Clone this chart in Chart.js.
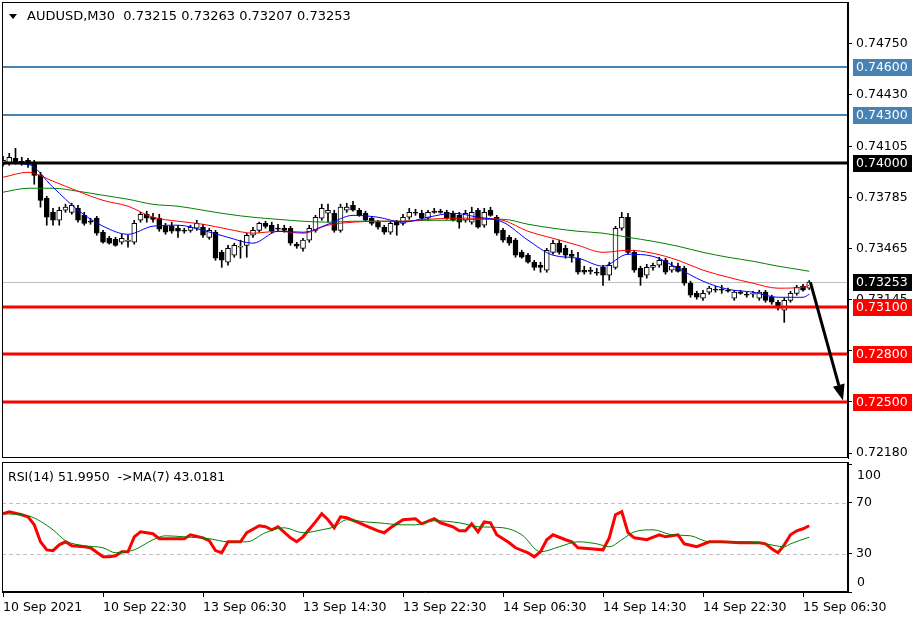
<!DOCTYPE html>
<html>
<head>
<meta charset="utf-8">
<script src="https://cdn.jsdelivr.net/npm/chart.js@4.4.0/dist/chart.umd.min.js"></script>
<style>
  body { margin: 0; background: #fff; width: 922px; height: 620px; overflow: hidden; position: relative; }
  canvas { position: absolute; left: 0; }
  #main { top: 0; }
  #rsi { top: 460px; }
</style>
</head>
<body>
<canvas id="main" width="922" height="460"></canvas>
<canvas id="rsi" width="922" height="160"></canvas>
<script>
// AUDUSD M30 candles, 10 Sep 14:30 .. 15 Sep 07:00
const opens = [0.73992,0.73998,0.74030,0.74011,0.74017,0.73998,0.73923,0.73779,0.73691,0.73641,
  0.73704,0.73691,0.73716,0.73672,0.73635,0.73654,0.73566,0.73528,0.73522,0.73503,
  0.73509,0.73503,0.73641,0.73679,0.73660,0.73654,0.73603,0.73603,0.73591,0.73578,
  0.73578,0.73591,0.73597,0.73534,0.73566,0.73440,0.73378,0.73422,0.73472,0.73484,
  0.73547,0.73578,0.73622,0.73610,0.73591,0.73591,0.73591,0.73491,0.73465,0.73516,
  0.73578,0.73654,0.73685,0.73685,0.73578,0.73704,0.73735,0.73704,0.73685,0.73654,
  0.73629,0.73597,0.73566,0.73629,0.73622,0.73660,0.73691,0.73685,0.73654,0.73698,
  0.73698,0.73691,0.73685,0.73672,0.73641,0.73629,0.73704,0.73610,0.73704,0.73660,
  0.73578,0.73534,0.73516,0.73440,0.73422,0.73378,0.73359,0.73328,0.73440,0.73497,
  0.73465,0.73428,0.73403,0.73328,0.73328,0.73315,0.73346,0.73296,0.73346,0.73591,
  0.73660,0.73440,0.73340,0.73296,0.73346,0.73359,0.73390,0.73328,0.73353,0.73340,
  0.73246,0.73183,0.73152,0.73190,0.73208,0.73208,0.73202,0.73152,0.73190,0.73177,
  0.73177,0.73152,0.73190,0.73158,0.73127,0.73077,0.73139,0.73183,0.73227,0.73215];
const highs = [0.74042,0.74061,0.74092,0.74036,0.74030,0.74017,0.73942,0.73792,0.73716,0.73723,
  0.73742,0.73748,0.73735,0.73691,0.73654,0.73666,0.73578,0.73541,0.73534,0.73553,
  0.73547,0.73641,0.73691,0.73698,0.73685,0.73679,0.73622,0.73629,0.73610,0.73591,
  0.73610,0.73641,0.73616,0.73591,0.73578,0.73453,0.73484,0.73497,0.73516,0.73560,
  0.73597,0.73629,0.73635,0.73629,0.73616,0.73610,0.73603,0.73503,0.73528,0.73610,
  0.73672,0.73742,0.73742,0.73704,0.73742,0.73748,0.73760,0.73716,0.73698,0.73666,
  0.73641,0.73610,0.73635,0.73641,0.73679,0.73716,0.73710,0.73704,0.73704,0.73716,
  0.73710,0.73704,0.73698,0.73691,0.73704,0.73723,0.73716,0.73716,0.73723,0.73672,
  0.73591,0.73547,0.73528,0.73453,0.73434,0.73390,0.73378,0.73465,0.73516,0.73516,
  0.73484,0.73453,0.73440,0.73353,0.73346,0.73340,0.73359,0.73378,0.73603,0.73691,
  0.73685,0.73453,0.73353,0.73365,0.73372,0.73409,0.73403,0.73378,0.73372,0.73353,
  0.73259,0.73196,0.73202,0.73227,0.73227,0.73233,0.73215,0.73202,0.73202,0.73190,
  0.73196,0.73202,0.73202,0.73171,0.73139,0.73152,0.73196,0.73233,0.73240,0.73263];
const lows = [0.73980,0.73986,0.73992,0.73986,0.73973,0.73867,0.73723,0.73610,0.73610,0.73610,
  0.73691,0.73679,0.73629,0.73610,0.73616,0.73547,0.73497,0.73491,0.73478,0.73491,
  0.73472,0.73491,0.73629,0.73629,0.73629,0.73572,0.73553,0.73560,0.73534,0.73560,
  0.73566,0.73578,0.73534,0.73522,0.73390,0.73346,0.73359,0.73409,0.73403,0.73409,
  0.73534,0.73566,0.73591,0.73560,0.73572,0.73566,0.73484,0.73465,0.73447,0.73503,
  0.73566,0.73641,0.73629,0.73566,0.73566,0.73691,0.73698,0.73666,0.73635,0.73610,
  0.73585,0.73553,0.73553,0.73547,0.73610,0.73647,0.73672,0.73641,0.73641,0.73685,
  0.73685,0.73647,0.73635,0.73591,0.73629,0.73616,0.73591,0.73597,0.73666,0.73547,
  0.73503,0.73484,0.73409,0.73403,0.73372,0.73328,0.73315,0.73315,0.73428,0.73428,
  0.73403,0.73378,0.73303,0.73303,0.73303,0.73296,0.73233,0.73265,0.73334,0.73578,
  0.73428,0.73315,0.73233,0.73278,0.73328,0.73346,0.73303,0.73315,0.73315,0.73233,
  0.73158,0.73146,0.73139,0.73177,0.73190,0.73183,0.73190,0.73139,0.73177,0.73158,
  0.73158,0.73139,0.73127,0.73114,0.73077,0.73001,0.73127,0.73171,0.73196,0.73207];
const closes = [0.74017,0.74036,0.74005,0.74005,0.73992,0.73923,0.73766,0.73660,0.73641,0.73704,
  0.73723,0.73735,0.73641,0.73622,0.73629,0.73560,0.73503,0.73497,0.73484,0.73528,
  0.73516,0.73622,0.73679,0.73654,0.73647,0.73585,0.73566,0.73572,0.73572,0.73572,
  0.73597,0.73622,0.73547,0.73578,0.73403,0.73390,0.73465,0.73484,0.73478,0.73547,
  0.73578,0.73622,0.73603,0.73572,0.73585,0.73578,0.73497,0.73478,0.73516,0.73591,
  0.73660,0.73716,0.73704,0.73578,0.73723,0.73723,0.73704,0.73672,0.73641,0.73622,
  0.73597,0.73566,0.73622,0.73610,0.73660,0.73691,0.73685,0.73654,0.73691,0.73691,
  0.73691,0.73654,0.73641,0.73629,0.73685,0.73691,0.73597,0.73691,0.73672,0.73560,
  0.73516,0.73497,0.73422,0.73409,0.73378,0.73346,0.73346,0.73453,0.73497,0.73440,
  0.73422,0.73415,0.73315,0.73315,0.73321,0.73309,0.73296,0.73359,0.73591,0.73660,
  0.73440,0.73328,0.73284,0.73346,0.73359,0.73390,0.73315,0.73353,0.73321,0.73246,
  0.73171,0.73158,0.73183,0.73215,0.73202,0.73202,0.73196,0.73190,0.73183,0.73171,
  0.73183,0.73190,0.73139,0.73127,0.73089,0.73139,0.73183,0.73221,0.73202,0.73253];

// moving averages, read every 4 bars (+ last bar)
const maIdx  = [0,4,8,12,16,20,24,28,32,36,40,44,48,52,56,60,64,68,72,76,80,84,88,92,96,100,104,108,112,116,120,124,128,129];
const maFast = [0.73998,0.73992,0.73848,0.73704,0.73604,0.73553,0.73604,0.73610,0.73578,0.73534,0.73497,0.73572,
  0.73566,0.73616,0.73672,0.73660,0.73629,0.73660,0.73685,0.73660,0.73629,0.73516,0.73422,0.73403,0.73353,0.73428,
  0.73415,0.73340,0.73259,0.73208,0.73190,0.73158,0.73158,0.73177];
const maMid  = [0.73911,0.73942,0.73886,0.73823,0.73766,0.73729,0.73660,0.73635,0.73616,0.73585,0.73560,0.73572,
  0.73560,0.73610,0.73629,0.73635,0.73635,0.73647,0.73654,0.73654,0.73641,0.73572,0.73528,0.73484,0.73440,0.73453,
  0.73434,0.73390,0.73328,0.73284,0.73246,0.73215,0.73221,0.73233];
const maSlow = [0.73817,0.73842,0.73842,0.73823,0.73798,0.73773,0.73741,0.73729,0.73704,0.73679,0.73660,0.73647,
  0.73635,0.73629,0.73635,0.73635,0.73635,0.73641,0.73641,0.73647,0.73647,0.73616,0.73591,0.73572,0.73560,0.73534,
  0.73509,0.73478,0.73440,0.73409,0.73384,0.73353,0.73328,0.73321];

// RSI(14) and its MA(7)
const rsiIdx = [0,1,3,4,5,6,7,8,9,10,11,13,14,16,17,18,19,20,21,22,24,25,27,29,30,32,33,34,35,36,38,39,41,42,43,44,
  46,47,48,50,51,52,53,54,55,57,58,60,61,62,64,66,67,69,70,72,73,74,75,76,77,78,79,81,82,84,85,86,87,88,90,91,92,
  94,96,97,98,99,100,101,103,105,106,108,109,111,113,115,118,121,122,123,124,125,126,127,128,129];
const rsiValues = [61.4,63,60.6,59,52.7,39.4,33,32.4,37,39.4,36.3,35.5,34.7,27.6,27.6,28.4,31.6,31.6,43.3,47.2,45.7,41.8,
  41.8,41.8,44.9,42.5,40.2,32.5,30.8,39.4,39.4,46.5,52,51.2,48.8,51.2,42.5,39.4,43.3,55,61.4,56.7,50.4,59,58.2,54.3,
  52,48,46.5,50.4,56.7,57.5,53.5,57.5,54.3,51.2,48,48,53.5,47.2,55,54.3,44.9,38.6,34.7,30.8,27.6,31.6,41,44.9,41,39.4,
  34.7,33.9,33.1,42.5,60.6,63,46.5,42.5,41,44.9,43.3,44.9,37.8,35.5,39.4,39.4,38.6,38.6,37.8,33.9,30.8,37,44.9,48,49.6,52.0];
const rsiMaIdx = [0,4,8,10,13,16,18,21,24,26,29,33,36,39,42,45,48,51,53,55,58,60,64,66,69,73,76,80,83,86,89,92,95,97,
  99,101,104,107,110,113,116,119,122,125,126,129];
const rsiMaValues = [61.4,59.8,48.8,40.2,36.3,34.7,30.8,33.1,41,44.1,43.3,41.8,39.4,39.4,46.5,50.4,46.5,48.8,51.2,56.7,
  55,54.3,52.7,52.7,55.9,54.3,51.2,50.4,44.9,31.6,35.5,39.4,37.8,35.5,41,47.2,48.8,44.9,44.1,39.4,39.4,39.4,37.8,35.5,37.8,43.0];

const priceTicks = [0.74750, 0.74430, 0.74105, 0.73785, 0.73465, 0.73145, 0.72825, 0.72505, 0.72180];
const hiddenTicks = [0.72825, 0.72505]; // covered by the level boxes in the terminal
const levels = [0.74600, 0.74300, 0.74000, 0.73100, 0.72800, 0.72500];
const bidPrice = 0.73253;
const timeTickIdx = [0, 16, 32, 48, 64, 80, 96, 112, 128];
const timeLabels = ['10 Sep 2021', '10 Sep 22:30', '13 Sep 06:30', '13 Sep 14:30', '13 Sep 22:30',
  '14 Sep 06:30', '14 Sep 14:30', '14 Sep 22:30', '15 Sep 06:30'];

// styling for the level lines
const levelColors = ['#4682b4', '#4682b4', '#000000', '#ff0000', '#ff0000', '#ff0000'];
const levelWidths = [2, 2, 3, 3, 3, 3];
// forecast arrow, in bar index / price
const arrowFrom = { x: 129.2, y: 0.73250 };
const arrowTo = { x: 134.4, y: 0.72510 };

const AXIS_FONT = { family: 'DejaVu Sans', size: 12.5 };
const FONT = '12.5px "DejaVu Sans"';
const xMin = -0.16, xMax = 135.2;

const bars = opens.map((o, i) => i);
const wickData = bars.map(i => ({ x: i, y: [lows[i], highs[i]] }));
const bodyData = bars.map(i => ({ x: i, y: [opens[i], closes[i]] }));
const bodyFill = bars.map(i => closes[i] >= opens[i] ? '#ffffff' : '#000000');
const pts = (idx, vals) => idx.map((x, k) => ({ x: x, y: vals[k] }));

// keep the plot area exactly where the layout padding puts it
function noAxisPad(s) {
  s.paddingTop = 0; s.paddingBottom = 0; s.paddingLeft = 0; s.paddingRight = 0;
}

function priceBox(ctx, y, text, bg) {
  ctx.fillStyle = bg;
  ctx.fillRect(853, Math.round(y) - 8, 59, 17);
  ctx.fillStyle = '#fff';
  ctx.textAlign = 'left';
  ctx.textBaseline = 'middle';
  ctx.fillText(text, 856, Math.round(y) + 0.5);
}

const mainPlugin = {
  id: 'mainDeco',
  beforeDatasetsDraw(chart) {
    const { ctx, chartArea: a, scales: { y } } = chart;
    const yb = Math.round(y.getPixelForValue(bidPrice)) + 0.5;
    ctx.save();
    ctx.strokeStyle = '#c0c0c0';
    ctx.lineWidth = 1;
    ctx.beginPath(); ctx.moveTo(a.left, yb); ctx.lineTo(a.right, yb); ctx.stroke();
    ctx.restore();
  },
  afterDatasetsDraw(chart) {
    const { ctx, chartArea: a, scales: { x, y } } = chart;
    ctx.save();
    levels.forEach((v, k) => {
      const py = Math.round(y.getPixelForValue(v));
      ctx.strokeStyle = levelColors[k];
      ctx.lineWidth = levelWidths[k];
      ctx.beginPath(); ctx.moveTo(a.left, py); ctx.lineTo(a.right, py); ctx.stroke();
    });
    // arrow
    const x1 = x.getPixelForValue(arrowFrom.x), y1 = y.getPixelForValue(arrowFrom.y);
    const x2 = x.getPixelForValue(arrowTo.x), y2 = y.getPixelForValue(arrowTo.y);
    const ang = Math.atan2(y2 - y1, x2 - x1);
    const hl = 16, hw = 6;
    const bx = x2 - hl * Math.cos(ang), by = y2 - hl * Math.sin(ang);
    ctx.strokeStyle = '#000';
    ctx.lineWidth = 3;
    ctx.beginPath(); ctx.moveTo(x1, y1); ctx.lineTo(bx, by); ctx.stroke();
    ctx.fillStyle = '#000';
    ctx.beginPath();
    ctx.moveTo(x2, y2);
    ctx.lineTo(bx + hw * Math.sin(ang), by - hw * Math.cos(ang));
    ctx.lineTo(bx - hw * Math.sin(ang), by + hw * Math.cos(ang));
    ctx.closePath(); ctx.fill();
    ctx.restore();
  },
  afterDraw(chart) {
    const { ctx, chartArea: a, scales: { y } } = chart;
    ctx.save();
    ctx.strokeStyle = '#000';
    ctx.lineWidth = 1;
    ctx.strokeRect(a.left + 0.5, a.top + 0.5, a.right - a.left - 1, a.bottom - a.top - 1);
    ctx.font = FONT;
    levels.forEach((v, k) => priceBox(ctx, y.getPixelForValue(v), v.toFixed(5), levelColors[k]));
    priceBox(ctx, y.getPixelForValue(bidPrice), bidPrice.toFixed(5), '#000');
    // header
    ctx.fillStyle = '#000';
    ctx.beginPath(); ctx.moveTo(9, 14); ctx.lineTo(17, 14); ctx.lineTo(13, 19); ctx.closePath(); ctx.fill();
    ctx.font = '13px "DejaVu Sans"';
    ctx.textAlign = 'left';
    ctx.textBaseline = 'middle';
    ctx.fillText('AUDUSD,M30  0.73215 0.73263 0.73207 0.73253', 27, 17);
    ctx.restore();
  }
};

const mainChart = new Chart(document.getElementById('main'), {
  type: 'bar',
  data: {
    datasets: [
      { type: 'line', data: pts(maIdx, maFast), borderColor: '#0000ff', borderWidth: 1, pointRadius: 0, cubicInterpolationMode: 'monotone', order: 1 },
      { type: 'line', data: pts(maIdx, maMid), borderColor: '#ff0000', borderWidth: 1, pointRadius: 0, cubicInterpolationMode: 'monotone', order: 1 },
      { type: 'line', data: pts(maIdx, maSlow), borderColor: '#008000', borderWidth: 1, pointRadius: 0, cubicInterpolationMode: 'monotone', order: 1 },
      { data: bodyData, backgroundColor: bodyFill, borderColor: '#000', borderWidth: 1, borderSkipped: false,
        barThickness: 5, minBarLength: 1, grouped: false, order: 2 },
      { data: wickData, backgroundColor: '#000', barThickness: 1, grouped: false, order: 3 }
    ]
  },
  options: {
    responsive: false,
    animation: false,
    events: [],
    layout: { padding: { left: 2, top: 2, bottom: 2, right: 0 } },
    plugins: { legend: { display: false }, tooltip: { enabled: false } },
    scales: {
      x: { type: 'linear', min: xMin, max: xMax, offset: false, display: false },
      y: {
        position: 'right', min: 0.7215, max: 0.7501,
        afterFit(s) { s.width = 74; noAxisPad(s); },
        afterBuildTicks(s) { s.ticks = priceTicks.map(v => ({ value: v })); },
        ticks: { callback: v => hiddenTicks.includes(v) ? '' : v.toFixed(5), color: '#000', font: AXIS_FONT, padding: 4 },
        grid: { drawOnChartArea: false, tickLength: 4, color: '#000' },
        border: { color: '#000' }
      }
    }
  },
  plugins: [mainPlugin]
});

const rsiPlugin = {
  id: 'rsiDeco',
  beforeDatasetsDraw(chart) {
    const { ctx, chartArea: a, scales: { y } } = chart;
    ctx.save();
    ctx.strokeStyle = '#c0c0c0';
    ctx.lineWidth = 1;
    ctx.setLineDash([4, 3]);
    [70, 30].forEach(v => {
      const py = Math.round(y.getPixelForValue(v)) + 0.5;
      ctx.beginPath(); ctx.moveTo(a.left, py); ctx.lineTo(a.right, py); ctx.stroke();
    });
    ctx.restore();
  },
  afterDraw(chart) {
    const { ctx, chartArea: a, scales: { y } } = chart;
    ctx.save();
    ctx.strokeStyle = '#000';
    ctx.lineWidth = 1;
    ctx.strokeRect(a.left + 0.5, a.top + 0.5, a.right - a.left - 1, a.bottom - a.top - 1);
    ctx.font = FONT;
    ctx.fillStyle = '#000';
    ctx.textAlign = 'left';
    ctx.textBaseline = 'middle';
    ctx.fillText('100', 857, y.getPixelForValue(100) + 11);
    ctx.fillText('0', 857, y.getPixelForValue(0) - 9);
    ctx.fillText('RSI(14) 51.9950  ->MA(7) 43.0181', 8, a.top + 16);
    ctx.restore();
  }
};

const rsiChart = new Chart(document.getElementById('rsi'), {
  type: 'line',
  data: {
    datasets: [
      { data: pts(rsiIdx, rsiValues), borderColor: '#ff0000', borderWidth: 3, pointRadius: 0, tension: 0, order: 2 },
      { data: pts(rsiMaIdx, rsiMaValues), borderColor: '#008000', borderWidth: 1, pointRadius: 0, cubicInterpolationMode: 'monotone', order: 1 }
    ]
  },
  options: {
    responsive: false,
    animation: false,
    events: [],
    layout: { padding: { left: 2, top: 2, bottom: 0, right: 0 } },
    plugins: { legend: { display: false }, tooltip: { enabled: false } },
    scales: {
      x: {
        type: 'linear', min: xMin, max: xMax, offset: false,
        afterFit(s) { s.height = 28; noAxisPad(s); },
        afterBuildTicks(s) { s.ticks = timeTickIdx.map(v => ({ value: v })); },
        ticks: { callback: (v, i) => timeLabels[i], align: 'start', maxRotation: 0, autoSkip: false,
                 color: '#000', font: AXIS_FONT, padding: 3 },
        grid: { drawOnChartArea: false, tickLength: 5, color: '#000' },
        border: { color: '#000' }
      },
      y: {
        position: 'right', min: 0, max: 102,
        afterFit(s) { s.width = 74; noAxisPad(s); },
        afterBuildTicks(s) { s.ticks = [0, 30, 70, 100].map(v => ({ value: v })); },
        ticks: { callback: v => (v === 30 || v === 70) ? String(v) : '', color: '#000', font: AXIS_FONT, padding: 4 },
        grid: { drawOnChartArea: false, tickLength: 4, color: '#000' },
        border: { color: '#000' }
      }
    }
  },
  plugins: [rsiPlugin]
});
</script>
</body>
</html>
